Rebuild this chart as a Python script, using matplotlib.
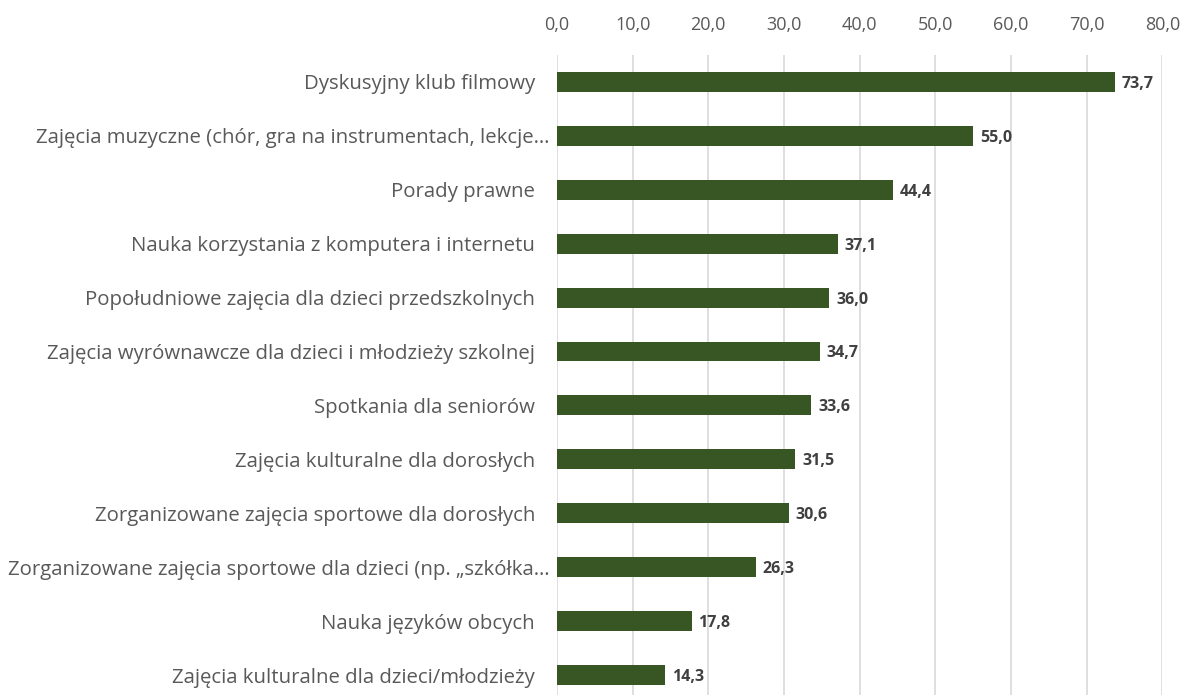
import matplotlib.pyplot as plt
import matplotlib.transforms as mtransforms
import numpy as np

categories = [
    "Dyskusyjny klub filmowy",
    "Zajęcia muzyczne (chór, gra na instrumentach, lekcje…",
    "Porady prawne",
    "Nauka korzystania z komputera i internetu",
    "Popołudniowe zajęcia dla dzieci przedszkolnych",
    "Zajęcia wyrównawcze dla dzieci i młodzieży szkolnej",
    "Spotkania dla seniorów",
    "Zajęcia kulturalne dla dorosłych",
    "Zorganizowane zajęcia sportowe dla dorosłych",
    "Zorganizowane zajęcia sportowe dla dzieci (np. „szkółka…",
    "Nauka języków obcych",
    "Zajęcia kulturalne dla dzieci/młodzieży",
]
values = [73.7, 55.0, 44.4, 37.1, 36.0, 34.7, 33.6, 31.5, 30.6, 26.3, 17.8, 14.3]
xticks = [0, 10, 20, 30, 40, 50, 60, 70, 80]

plt.rcParams['font.family'] = ['Open Sans', 'DejaVu Sans']

fig = plt.figure(figsize=(11.8, 6.95), dpi=100)
ax = fig.add_axes([0.472, 0.0, 0.513, 0.921])

y = np.arange(len(categories))
ax.barh(y, values, height=0.37, color='#375623', zorder=3)

for yi, v in zip(y, values):
    ax.text(v + 0.9, yi, f"{v:.1f}".replace('.', ','), va='center_baseline', ha='left',
            fontsize=11.5, fontweight='bold', color='#404040')

# category labels: excel adds a trailing space to the non-truncated ones
for yi, lab in zip(y, categories):
    gap = 7 if lab.endswith('…') else 22
    off = mtransforms.ScaledTranslation(-gap / 100, 0, fig.dpi_scale_trans)
    ax.text(0, yi, lab, ha='right', va='center_baseline', fontsize=14.7,
            color='#595959', transform=ax.transData + off, clip_on=False)

ax.set_xlim(0, 80)
ax.set_ylim(11.37, -0.5)
ax.set_xticks(xticks)
ax.set_xticklabels([f"{t:.1f}".replace('.', ',') for t in xticks])
ax.xaxis.tick_top()
ax.set_yticks([])
ax.tick_params(axis='x', length=0, pad=15, labelsize=13, labelcolor='#595959')
ax.grid(axis='x', color='#d9d9d9', linewidth=1.2, zorder=0)
for s in ax.spines.values():
    s.set_visible(False)

fig.savefig('out.png', dpi=100)
